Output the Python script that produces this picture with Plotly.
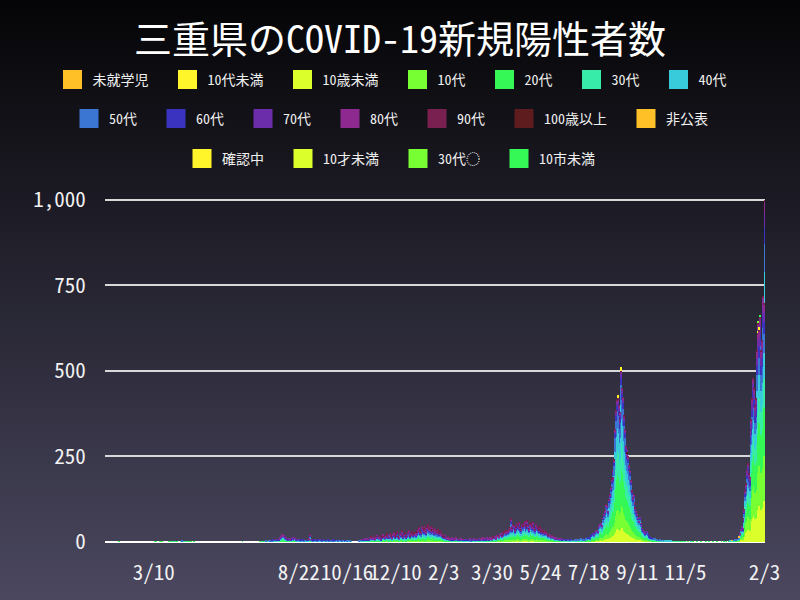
import numpy as np
import pandas as pd
import plotly.graph_objects as go

FONT = "Noto Sans Mono CJK JP, DejaVu Sans Mono, Noto Sans CJK JP, monospace"

# daily new cases, 2020-01-15 .. 2022-02-03
start_date = "2020-01-15"
cases_2020 = [
    0, 0, 0, 0, 0, 0, 0, 0, 0, 0, 0, 0, 0, 0, 0, 1, 0,  # Jan 15-31
    0, 0, 0, 0, 0, 0, 0, 0, 0, 0, 0, 0, 0, 0, 0, 0, 0, 0, 0, 0, 0, 0, 0, 0, 0, 0, 0, 0, 0,  # Feb
    0, 0, 0, 0, 0, 0, 0, 0, 0, 0, 1, 0, 1, 0, 0, 0, 1, 0, 1, 0, 0, 0, 0, 0, 0, 0, 1, 0, 0, 1, 2,  # Mar
    1, 1, 2, 0, 1, 1, 0, 0, 0, 2, 3, 1, 2, 1, 0, 1, 2, 1, 0, 1, 0, 1, 0, 0, 1, 0, 0, 0, 0, 0,  # Apr
    0, 0, 0, 0, 0, 0, 0, 0, 0, 0, 0, 0, 0, 0, 0, 0, 0, 0, 0, 0, 0, 0, 0, 0, 0, 0, 0, 0, 0, 0, 0,  # May
    0, 0, 0, 0, 0, 0, 0, 0, 0, 0, 0, 0, 0, 0, 0, 0, 0, 0, 1, 0, 0, 0, 0, 0, 0, 0, 0, 0, 0, 0,  # Jun
    0, 0, 0, 0, 0, 0, 0, 0, 1, 0, 2, 1, 0, 1, 2, 3, 1, 2, 4, 3, 2, 5, 3, 6, 4, 2, 7, 5, 8, 6, 9,  # Jul
    12, 16, 21, 18, 20, 14, 10, 13, 8, 7, 11, 9, 6, 10, 12, 8, 13, 11, 7, 5, 8, 4, 6, 3, 5, 4, 6, 3, 4, 2, 5,  # Aug
    4, 6, 9, 22, 8, 5, 3, 6, 4, 7, 5, 3, 6, 4, 8, 5, 3, 4, 6, 2, 5, 3, 4, 6, 3, 2, 5, 4, 3, 6,  # Sep
    3, 5, 2, 4, 6, 3, 2, 4, 5, 3, 2, 4, 3, 5, 2, 3, 4, 2, 3, 1, 2, 0, 0, 0, 0, 0, 0, 0, 1, 3, 4,  # Oct
    5, 8, 4, 6, 9, 7, 5, 10, 8, 6, 12, 15, 10, 14, 18, 11, 9, 16, 20, 14, 12, 18, 10, 8, 15, 22, 17, 13, 19, 24,  # Nov
    16, 20, 14, 25, 18, 12, 22, 28, 19, 15, 24, 30, 17, 13, 26, 21, 33, 18, 14, 23, 27, 16, 20, 29, 35, 22, 18, 25, 30, 24, 27,  # Dec
]
cases_2021 = [
    28, 22, 35, 30, 38, 42, 33, 29, 45, 40, 36, 48, 39, 31, 44, 50, 41, 37, 46, 35, 42, 38, 32, 40, 34, 29, 36, 31, 27, 33, 25,  # Jan
    22, 18, 15, 20, 14, 12, 10, 16, 9, 11, 8, 13, 7, 10, 6, 9, 12, 5, 8, 7, 10, 6, 9, 5, 8, 4, 7, 6,  # Feb
    5, 8, 4, 6, 9, 3, 7, 5, 10, 6, 4, 8, 5, 7, 11, 6, 9, 5, 8, 12, 7, 10, 6, 13, 9, 8, 14, 10, 12, 9, 15,  # Mar
    12, 16, 10, 14, 18, 20, 15, 22, 25, 19, 28, 24, 30, 33, 27, 35, 31, 38, 42, 68, 45, 40, 52, 48, 37, 44, 55, 50, 46, 58,  # Apr
    42, 38, 52, 47, 55, 60, 44, 50, 62, 48, 40, 56, 53, 45, 49, 58, 43, 38, 51, 46, 41, 36, 44, 39, 33, 37, 30, 35, 28, 32, 26,  # May
    24, 20, 22, 18, 15, 19, 16, 12, 14, 10, 13, 9, 11, 8, 10, 7, 9, 6, 8, 5, 7, 6, 4, 8, 5, 6, 3, 7, 4, 5,  # Jun
    4, 6, 3, 7, 5, 8, 6, 4, 9, 7, 5, 10, 8, 6, 11, 9, 12, 14, 10, 16, 18, 22, 25, 20, 28, 32, 35, 30, 42, 48, 52,  # Jul
    55, 48, 70, 80, 88, 95, 110, 105, 90, 125, 140, 160, 185, 210, 190, 240, 330, 380, 415, 420, 400, 360, 380, 500, 450, 420, 370, 330, 280, 260, 270,  # Aug
    250, 225, 210, 180, 150, 130, 140, 115, 100, 90, 80, 70, 60, 72, 55, 48, 40, 35, 30, 25, 28, 30, 22, 18, 15, 12, 14, 10, 11, 8,  # Sep
    9, 7, 6, 8, 5, 4, 6, 5, 3, 4, 5, 3, 2, 4, 3, 2, 3, 1, 2, 3, 1, 2, 0, 1, 2, 1, 0, 1, 2, 0, 1,  # Oct
    1, 0, 2, 0, 1, 0, 0, 1, 0, 0, 2, 0, 0, 1, 0, 0, 0, 1, 0, 0, 0, 0, 1, 0, 0, 0, 0, 1, 0, 0,  # Nov
    0, 1, 0, 0, 0, 1, 0, 0, 0, 0, 1, 0, 0, 0, 0, 1, 0, 0, 2, 0, 1, 0, 0, 1, 2, 3, 2, 4, 3, 5, 6,  # Dec
]
cases_2022 = [
    4, 6, 5, 8, 14, 22, 38, 45, 40, 70, 95, 150, 170, 210, 230, 200, 190, 330, 360, 420, 480, 450, 400, 420, 560, 610, 640, 620, 660, 560, 590,  # Jan
    720, 700, 1000,  # Feb 1-3
]

# main age groups and their rough share of each day's bar, per wave
age_groups = ["10歳未満", "10代", "20代", "30代", "40代", "50代", "60代", "70代", "80代", "90代"]
period_starts = ["2020-01-15", "2020-11-01", "2021-04-01", "2021-07-01", "2022-01-01"]
shares_2020 = [2, 6, 26, 15, 15, 15, 8, 6, 5, 2]
shares_wave3 = [4, 9, 20, 13, 13, 13, 9, 8, 8, 3]
shares_wave4 = [6, 12, 22, 14, 14, 12, 7, 6, 5, 2]
shares_wave5 = [9, 14, 24, 17, 16, 12, 4, 2, 1.5, 0.5]
shares_wave6 = [17, 19, 20, 12, 11, 8, 5, 4, 3, 1]

# odd / rare categories (date, count)
extra_preschool = [("2021-12-26", 1), ("2021-12-29", 2), ("2022-01-03", 1), ("2022-01-06", 2)]
extra_under10_a = [("2021-08-18", 4), ("2021-08-26", 3)]
extra_100plus = [("2021-01-20", 1), ("2021-08-30", 1)]
extra_undisclosed = [("2021-12-28", 1), ("2022-01-05", 2)]
extra_checking = [("2021-08-20", 10), ("2021-08-24", 12), ("2022-01-28", 8)]
extra_under10_b = [("2022-01-26", 6)]
extra_30s_typo = [("2022-01-27", 7)]
extra_10city = [("2022-01-29", 5)]

labels = ["未就学児", "10代未満", "10歳未満", "10代", "20代", "30代", "40代",
          "50代", "60代", "70代", "80代", "90代", "100歳以上", "非公表",
          "確認中", "10才未満", "30代◌", "10市未満"]
colors = ["#FFBF26", "#FFF52A", "#DBFF2A", "#78FF33", "#35F755", "#37EBA8", "#38CBDC",
          "#3A76D2", "#3A33C0", "#6B2DAA", "#8E2A8F", "#7A2050", "#5E1C1E", "#FFBF26",
          "#FFF52A", "#DBFF2A", "#78FF33", "#35F755"]

tick_dates = ["2020-03-10", "2020-08-22", "2020-10-16", "2020-12-10", "2021-02-03", "2021-03-30",
              "2021-05-24", "2021-07-18", "2021-09-11", "2021-11-05", "2022-02-03"]
tick_labels = ["3/10", "8/22", "10/16", "12/10", "2/3", "3/30", "5/24", "7/18", "9/11", "11/5", "2/3"]

totals = cases_2020 + cases_2021 + cases_2022
assert len(cases_2020) == 352 and len(cases_2021) == 365 and len(cases_2022) == 34
dates = pd.date_range(start_date, periods=len(totals), freq="D")


def split(total, shares):
    raw = np.array(shares, dtype=float) * total / sum(shares)
    out = np.floor(raw).astype(int)
    rest = int(total - out.sum())
    order = np.argsort(-(raw - out))
    out[order[:rest]] += 1
    return out


all_shares = [shares_2020, shares_wave3, shares_wave4, shares_wave5, shares_wave6]
bounds = pd.to_datetime(period_starts)
df = pd.DataFrame(0, index=dates, columns=labels)
for d, t in zip(dates, totals):
    k = int((bounds <= d).sum()) - 1
    df.loc[d, age_groups] = split(t, all_shares[k])

for name, pts in [("未就学児", extra_preschool), ("10代未満", extra_under10_a),
                  ("100歳以上", extra_100plus), ("非公表", extra_undisclosed),
                  ("確認中", extra_checking), ("10才未満", extra_under10_b),
                  ("30代◌", extra_30s_typo), ("10市未満", extra_10city)]:
    for d, n in pts:
        df.loc[pd.Timestamp(d), name] = n

fig = go.Figure()
for name, c in zip(labels, colors):
    fig.add_trace(go.Bar(x=df.index, y=df[name], name=name, marker_color=c,
                         marker_line_width=0, showlegend=False))

# legend rows (three centred rows like the original)
PAD = "\u00a0" * 2
rows = [labels[:7], labels[7:14], labels[14:]]
for r, names in enumerate(rows):
    for name in names:
        c = colors[labels.index(name)]
        fig.add_trace(go.Scatter(
            x=[None], y=[None], mode="markers", name=name + PAD,
            legend="legend" if r == 0 else f"legend{r + 1}",
            marker=dict(symbol="square", size=16, color=c, line=dict(color=c, width=3)),
        ))

# dark vertical gradient background
W, H = 800, 600
ML, MR, MT, MB = 105, 35, 190, 58
pw, ph = W - ML - MR, H - MT - MB
top_rgb = np.array([5, 5, 7])
bot_rgb = np.array([75, 72, 96])
n_bands = 75
shapes = []
for i in range(n_bands):
    y0px = H * i / n_bands
    y1px = H * (i + 1) / n_bands + 1
    col = top_rgb + (bot_rgb - top_rgb) * (i + 0.5) / n_bands
    shapes.append(dict(
        type="rect", xref="paper", yref="paper", layer="below", line_width=0,
        x0=-ML / pw - 0.01, x1=(W - ML) / pw + 0.01,
        y0=(H - MB - y1px) / ph, y1=(H - MB - y0px) / ph,
        fillcolor="rgb(%d,%d,%d)" % tuple(col.astype(int)),
    ))

legend_common = dict(orientation="h", xref="container", yref="container",
                     xanchor="center", x=398 / W, yanchor="middle",
                     bgcolor="rgba(0,0,0,0)", itemsizing="trace", traceorder="normal",
                     font=dict(size=14, color="#f0f0f0", family=FONT))

fig.update_layout(
    width=W, height=H,
    margin=dict(l=ML, r=MR, t=MT, b=MB, autoexpand=False),
    barmode="stack", bargap=0,
    paper_bgcolor="#2a2832", plot_bgcolor="rgba(0,0,0,0)",
    shapes=shapes,
    font=dict(family=FONT, color="#f2f2f2"),
    title=dict(text="三重県のCOVID-19新規陽性者数", x=0.5, xanchor="center",
               y=1 - 40 / H, yanchor="middle",
               font=dict(size=38, color="#ffffff", family=FONT)),
    # first row is wide: anchor it left of the plot area so it is not wrapped
    legend=dict(legend_common, xref="paper", yref="paper", xanchor="left",
                x=(52.5 - ML) / pw, y=(H - MB - 80) / ph),
    legend2=dict(legend_common, y=1 - 119 / H),
    legend3=dict(legend_common, y=1 - 159 / H),
    xaxis=dict(type="date", range=["2020-01-14 12:00", "2022-02-03 12:00"],
               tickvals=tick_dates, ticktext=tick_labels, tickangle=0, automargin=False,
               showgrid=False, ticks="outside", ticklen=12, tickcolor="rgba(0,0,0,0)",
               tickfont=dict(size=21, color="#f2f2f2"), showline=False, zeroline=False),
    yaxis=dict(range=[0, 1029], tickvals=[0, 250, 500, 750, 1000], tickformat=",",
               automargin=False,
               gridcolor="#d8d8d8", gridwidth=2, zeroline=True,
               zerolinecolor="#ffffff", zerolinewidth=2,
               ticks="outside", ticklen=14, tickcolor="rgba(0,0,0,0)",
               tickfont=dict(size=21, color="#f2f2f2"), showline=False),
)

fig.write_html("out.html", config={"displayModeBar": False},
               post_script="document.body.style.margin='0';"
                           "document.body.style.overflow='hidden';")
